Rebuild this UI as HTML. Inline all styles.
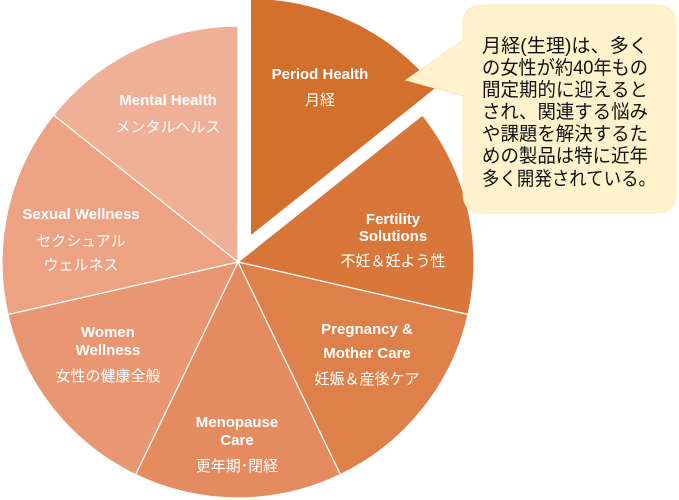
<!DOCTYPE html>
<html><head><meta charset="utf-8"><style>
html,body{margin:0;padding:0;background:#fff;}
svg{display:block;}
.l{font-family:"Liberation Sans","Noto Sans CJK JP",sans-serif;font-weight:bold;font-size:15px;fill:#fff;text-anchor:middle;}
.j{font-family:"Liberation Sans","Noto Sans CJK JP",sans-serif;font-size:15px;fill:#fff;text-anchor:middle;}
.c{font-family:"Liberation Sans","Noto Sans CJK JP",sans-serif;font-size:19px;fill:#111;}
</style></head><body>
<svg width="679" height="500" viewBox="0 0 679 500" xmlns="http://www.w3.org/2000/svg">
<g stroke="#fff" stroke-width="1.2">
<path d="M238,262 L422.4,115 A236,236 0 0 1 468.1,314.5 Z" fill="#D9773B"/>
<path d="M238,262 L468.1,314.5 A236,236 0 0 1 340.4,474.6 Z" fill="#DE8049"/>
<path d="M238,262 L340.4,474.6 A236,236 0 0 1 135.6,474.6 Z" fill="#E48B5F"/>
<path d="M238,262 L135.6,474.6 A236,236 0 0 1 7.9,314.5 Z" fill="#E89772"/>
<path d="M238,262 L7.9,314.5 A236,236 0 0 1 53.6,115 Z" fill="#EDA283"/>
<path d="M238,262 L53.6,115 A236,236 0 0 1 238,26 Z" fill="#F0B098"/>
</g>
<path d="M251,235 L251,-1 A236,236 0 0 1 435.4,88 Z" fill="#D4702D"/>
<path d="M406,80 L463,40 L463,25 Q463,5 483,5 L656,5 Q676,5 676,25 L676,193 Q676,213 656,213 L483,213 Q463,213 463,193 L463,96 Z" fill="#FFF2CC" stroke="#FBEBC0" stroke-width="1"/>
<text class="c" x="482" y="52" textLength="166" lengthAdjust="spacingAndGlyphs">月経(生理)は、多く</text>
<text class="c" x="482" y="74" textLength="166" lengthAdjust="spacingAndGlyphs">の女性が約40年もの</text>
<text class="c" x="482" y="96" textLength="166" lengthAdjust="spacingAndGlyphs">間定期的に迎えると</text>
<text class="c" x="482" y="118" textLength="166" lengthAdjust="spacingAndGlyphs">され、関連する悩み</text>
<text class="c" x="482" y="140" textLength="166" lengthAdjust="spacingAndGlyphs">や課題を解決するた</text>
<text class="c" x="482" y="162" textLength="166" lengthAdjust="spacingAndGlyphs">めの製品は特に近年</text>
<text class="c" x="482" y="185" textLength="174" lengthAdjust="spacingAndGlyphs">多く開発されている。</text>
<text class="l" x="320" y="79">Period Health</text>
<text class="j" x="320" y="105">月経</text>
<text class="l" x="393" y="224">Fertility</text>
<text class="l" x="393" y="241">Solutions</text>
<text class="j" x="393" y="266">不妊＆妊よう性</text>
<text class="l" x="367" y="334">Pregnancy &amp;</text>
<text class="l" x="367" y="358">Mother Care</text>
<text class="j" x="367" y="384">妊娠＆産後ケア</text>
<text class="l" x="237" y="427">Menopause</text>
<text class="l" x="237" y="445">Care</text>
<text class="j" x="237" y="471">更年期･閉経</text>
<text class="l" x="108" y="337">Women</text>
<text class="l" x="108" y="355">Wellness</text>
<text class="j" x="108" y="381">女性の健康全般</text>
<text class="l" x="81" y="219">Sexual Wellness</text>
<text class="j" x="81" y="246">セクシュアル</text>
<text class="j" x="81" y="270">ウェルネス</text>
<text class="l" x="168" y="105">Mental Health</text>
<text class="j" x="168" y="132">メンタルヘルス</text>
</svg>
</body></html>
